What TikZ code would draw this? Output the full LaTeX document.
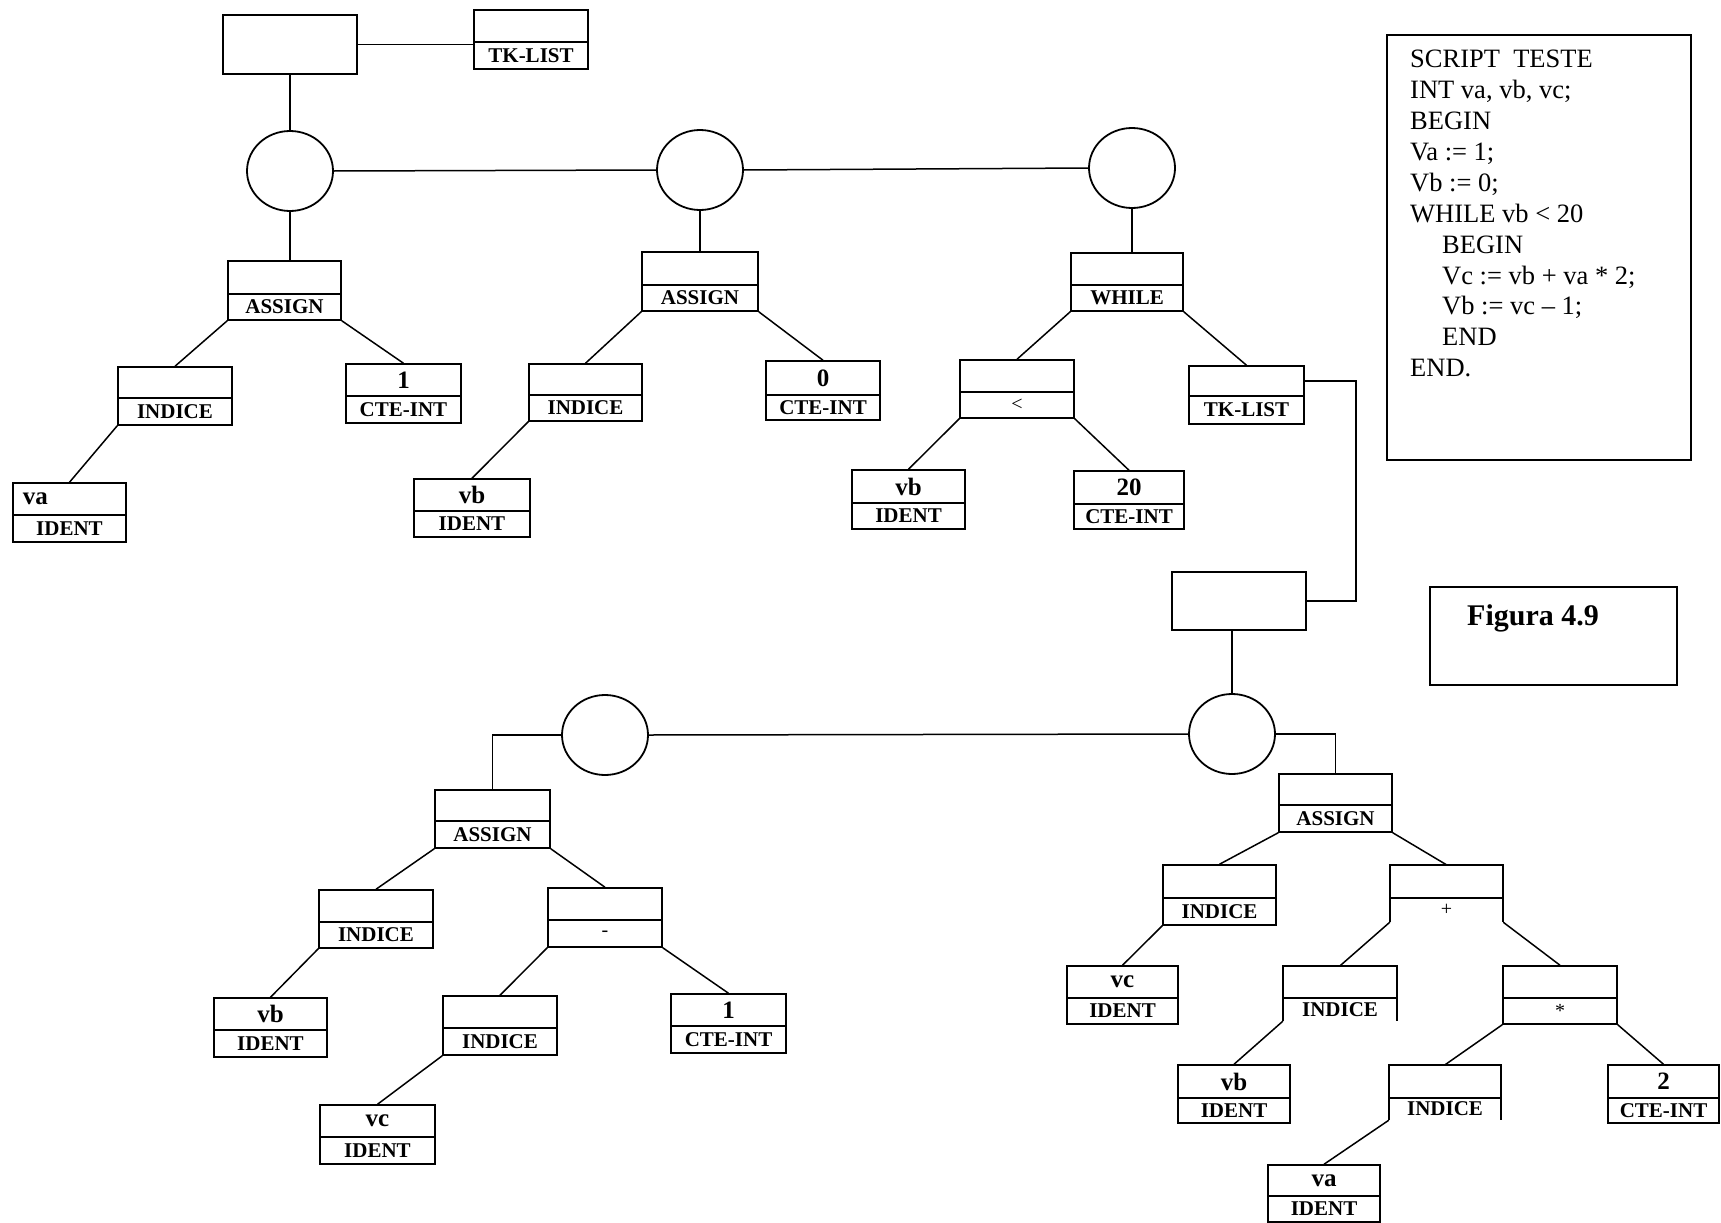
\documentclass[tikz,border=0pt]{standalone}
\usepackage{fontspec}
\setmainfont{Liberation Serif}
\usetikzlibrary{fit,calc,shapes.geometric}

\tikzset{
  edge/.style={line width=1.5pt, black},
  boxframe/.style={draw, line width=1.5pt, inner sep=0pt},
  hub/.style={draw, ellipse, line width=1.8pt, minimum width=86pt, minimum height=80pt, inner sep=0pt},
  valtext/.style={font=\fontsize{25}{28}\selectfont\bfseries, inner sep=0pt},
  labtext/.style={font=\fontsize{21}{24}\selectfont\bfseries, inner sep=0pt},
}
\newcommand\opsym{\fontsize{20}{24}\selectfont\mdseries}

% two-part cell: [value style]{name}{left}{top}{right}{bottom}{divider}{value}{label}
\newcommand\tbox[9][]{%
  \coordinate (#2-nw) at (#3,#4);
  \coordinate (#2-se) at (#5,#6);
  \node[boxframe, fit=(#2-nw)(#2-se)] (#2) {};
  \draw[edge] (#3,#7) -- (#5,#7);
  \node[valtext,#1] (#2-v) at ($(#3,#4)!0.5!(#5,#7)$) {#8};
  \node[labtext] (#2-l) at ($(#3,#7)!0.5!(#5,#6)$) {#9};
}
% same cell, drawn without its bottom edge
\newcommand\obox[9][]{%
  \begin{scope}[boxframe/.style={draw=none, inner sep=0pt}]
    \tbox[#1]{#2}{#3}{#4}{#5}{#6}{#7}{#8}{#9}
  \end{scope}
  \draw[edge] (#3,#6) -- (#3,#4) -- (#5,#4) -- (#5,#6);
}

\begin{document}
\begin{tikzpicture}[x=1pt, y=-1pt]
\fill[white] (0,0) rectangle (1721,1223);
\useasboundingbox (0,0) rectangle (1721,1223);

% ---- main statement list ----
\coordinate (root-nw) at (223,15);
\coordinate (root-se) at (357,74);
\node[boxframe, fit=(root-nw)(root-se)] (root) {};
\tbox{tk1}{474}{10}{588}{69}{42}{}{TK-LIST}

\node[hub] (c1) at (290,171) {};
\node[hub] (c2) at (700,170) {};
\node[hub] (c3) at (1132,168) {};

\tbox{a1}{228}{261}{341}{320}{294}{}{ASSIGN}
\tbox{i1}{118}{367}{232}{425}{398}{}{INDICE}
\tbox{k1}{346}{364}{461}{423}{396}{1}{CTE-INT}
\tbox[xshift=-34pt]{va1}{13}{483}{126}{542}{515}{va}{IDENT}

\tbox{a2}{642}{252}{758}{311}{285}{}{ASSIGN}
\tbox{i2}{529}{364}{642}{421}{395}{}{INDICE}
\tbox{k2}{766}{361}{880}{420}{395}{0}{CTE-INT}
\tbox{vb2}{414}{479}{530}{537}{511}{vb}{IDENT}

\tbox{w}{1071}{253}{1183}{311}{285}{}{WHILE}
\tbox{lt}{960}{360}{1074}{418}{392}{}{{\opsym <}}
\tbox{tk2}{1189}{366}{1304}{424}{396}{}{TK-LIST}
\tbox{vb3}{852}{470}{965}{529}{503}{vb}{IDENT}
\tbox{k3}{1074}{471}{1184}{529}{504}{20}{CTE-INT}

% ---- source listing ----
\coordinate (sc-nw) at (1387,35);
\coordinate (sc-se) at (1691,460);
\node[boxframe, fit=(sc-nw)(sc-se)] (script) {};
\node[anchor=north west, inner sep=0pt, align=left,
      font=\fontsize{26.5}{30.9}\selectfont] (code) at (1410,50)
  {SCRIPT\ \ TESTE\\
   INT va, vb, vc;\\
   BEGIN\\
   Va := 1;\\
   Vb := 0;\\
   WHILE vb < 20\\
   \hspace*{32pt}BEGIN\\
   \hspace*{32pt}Vc := vb + va * 2;\\
   \hspace*{32pt}Vb := vc – 1;\\
   \hspace*{32pt}END\\
   END.};

\coordinate (fig-nw) at (1430,587);
\coordinate (fig-se) at (1677,685);
\node[boxframe, fit=(fig-nw)(fig-se)] (figbox) {};
\node[font=\fontsize{30}{34}\selectfont\bfseries, inner sep=0pt] (figtxt) at (1533,618) {Figura 4.9};

% ---- loop body list ----
\coordinate (r2-nw) at (1172,572);
\coordinate (r2-se) at (1306,630);
\node[boxframe, fit=(r2-nw)(r2-se)] (r2) {};

\node[hub] (c4) at (605,735) {};
\node[hub] (c5) at (1232,734) {};

\tbox{a3}{435}{790}{550}{848}{821}{}{ASSIGN}
\tbox{i3}{319}{890}{433}{948}{922}{}{INDICE}
\tbox{mi}{548}{888}{662}{947}{920}{}{{\opsym -}}
\tbox{vb4}{214}{998}{327}{1057}{1030}{vb}{IDENT}
\tbox{i4}{443}{996}{557}{1055}{1028}{}{INDICE}
\tbox{k4}{671}{994}{786}{1053}{1026}{1}{CTE-INT}
\tbox{vc1}{320}{1105}{435}{1164}{1137}{vc}{IDENT}

\tbox{a4}{1279}{774}{1392}{832}{805}{}{ASSIGN}
\tbox{i5}{1163}{865}{1276}{925}{898}{}{INDICE}
\obox{pl}{1390}{865}{1503}{922}{898}{}{{\opsym +}}
\tbox{vc2}{1067}{966}{1178}{1024}{998}{vc}{IDENT}
\obox{i6}{1283}{966}{1397}{1021}{998}{}{INDICE}
\tbox{st}{1503}{966}{1617}{1024}{998}{}{{\opsym *}}
\tbox{vb5}{1178}{1065}{1290}{1123}{1098}{vb}{IDENT}
\obox{i7}{1389}{1065}{1501}{1120}{1098}{}{INDICE}
\tbox{k5}{1608}{1065}{1719}{1123}{1098}{2}{CTE-INT}
\tbox{va2}{1268}{1165}{1380}{1222}{1196}{va}{IDENT}

% ---- connectors ----
\draw[edge] (root.east) -- (root.east -| tk1.west);
\draw[edge] (root.south) -- (c1.north);
\draw[edge] (c1.east) -- (c2.west);
\draw[edge] (c2.east) -- (c3.west);
\draw[edge] (c1.south) -- (c1.south |- a1.north);
\draw[edge] (c2.south) -- (c2.south |- a2.north);
\draw[edge] (c3.south) -- (c3.south |- w.north);

\draw[edge] (a1.south west) -- (i1.north);
\draw[edge] (a1.south east) -- (k1.north);
\draw[edge] (i1.south west) -- (va1.north);
\draw[edge] (a2.south west) -- (i2.north);
\draw[edge] (a2.south east) -- (k2.north);
\draw[edge] (i2.south west) -- (vb2.north);
\draw[edge] (w.south west) -- (lt.north);
\draw[edge] (w.south east) -- (tk2.north);
\draw[edge] (lt.south west) -- (vb3.north);
\draw[edge] (lt.south east) -- (k3.north);

\draw[edge] (tk2-v -| tk2.east) -- ++(51,0) |- (r2.east);
\draw[edge] (c5.north |- r2.south) -- (c5.north);
\draw[edge] (c4.east) -- (c5.west);
\draw[edge] (c4.west) -| (a3.north);
\draw[edge] (c5.east) -| (a4.north);

\draw[edge] (a3.south west) -- (i3.north);
\draw[edge] (a3.south east) -- (mi.north);
\draw[edge] (i3.south west) -- (vb4.north);
\draw[edge] (mi.south west) -- (i4.north);
\draw[edge] (mi.south east) -- (k4.north);
\draw[edge] (i4.south west) -- (vc1.north);

\draw[edge] (a4.south west) -- (i5.north);
\draw[edge] (a4.south east) -- (pl.north);
\draw[edge] (i5.south west) -- (vc2.north);
\draw[edge] (pl.south west) -- (i6.north);
\draw[edge] (pl.south east) -- (st.north);
\draw[edge] (i6.south west) -- (vb5.north);
\draw[edge] (st.south west) -- (i7.north);
\draw[edge] (st.south east) -- (k5.north);
\draw[edge] (i7.south west) -- (va2.north);
\end{tikzpicture}
\end{document}
